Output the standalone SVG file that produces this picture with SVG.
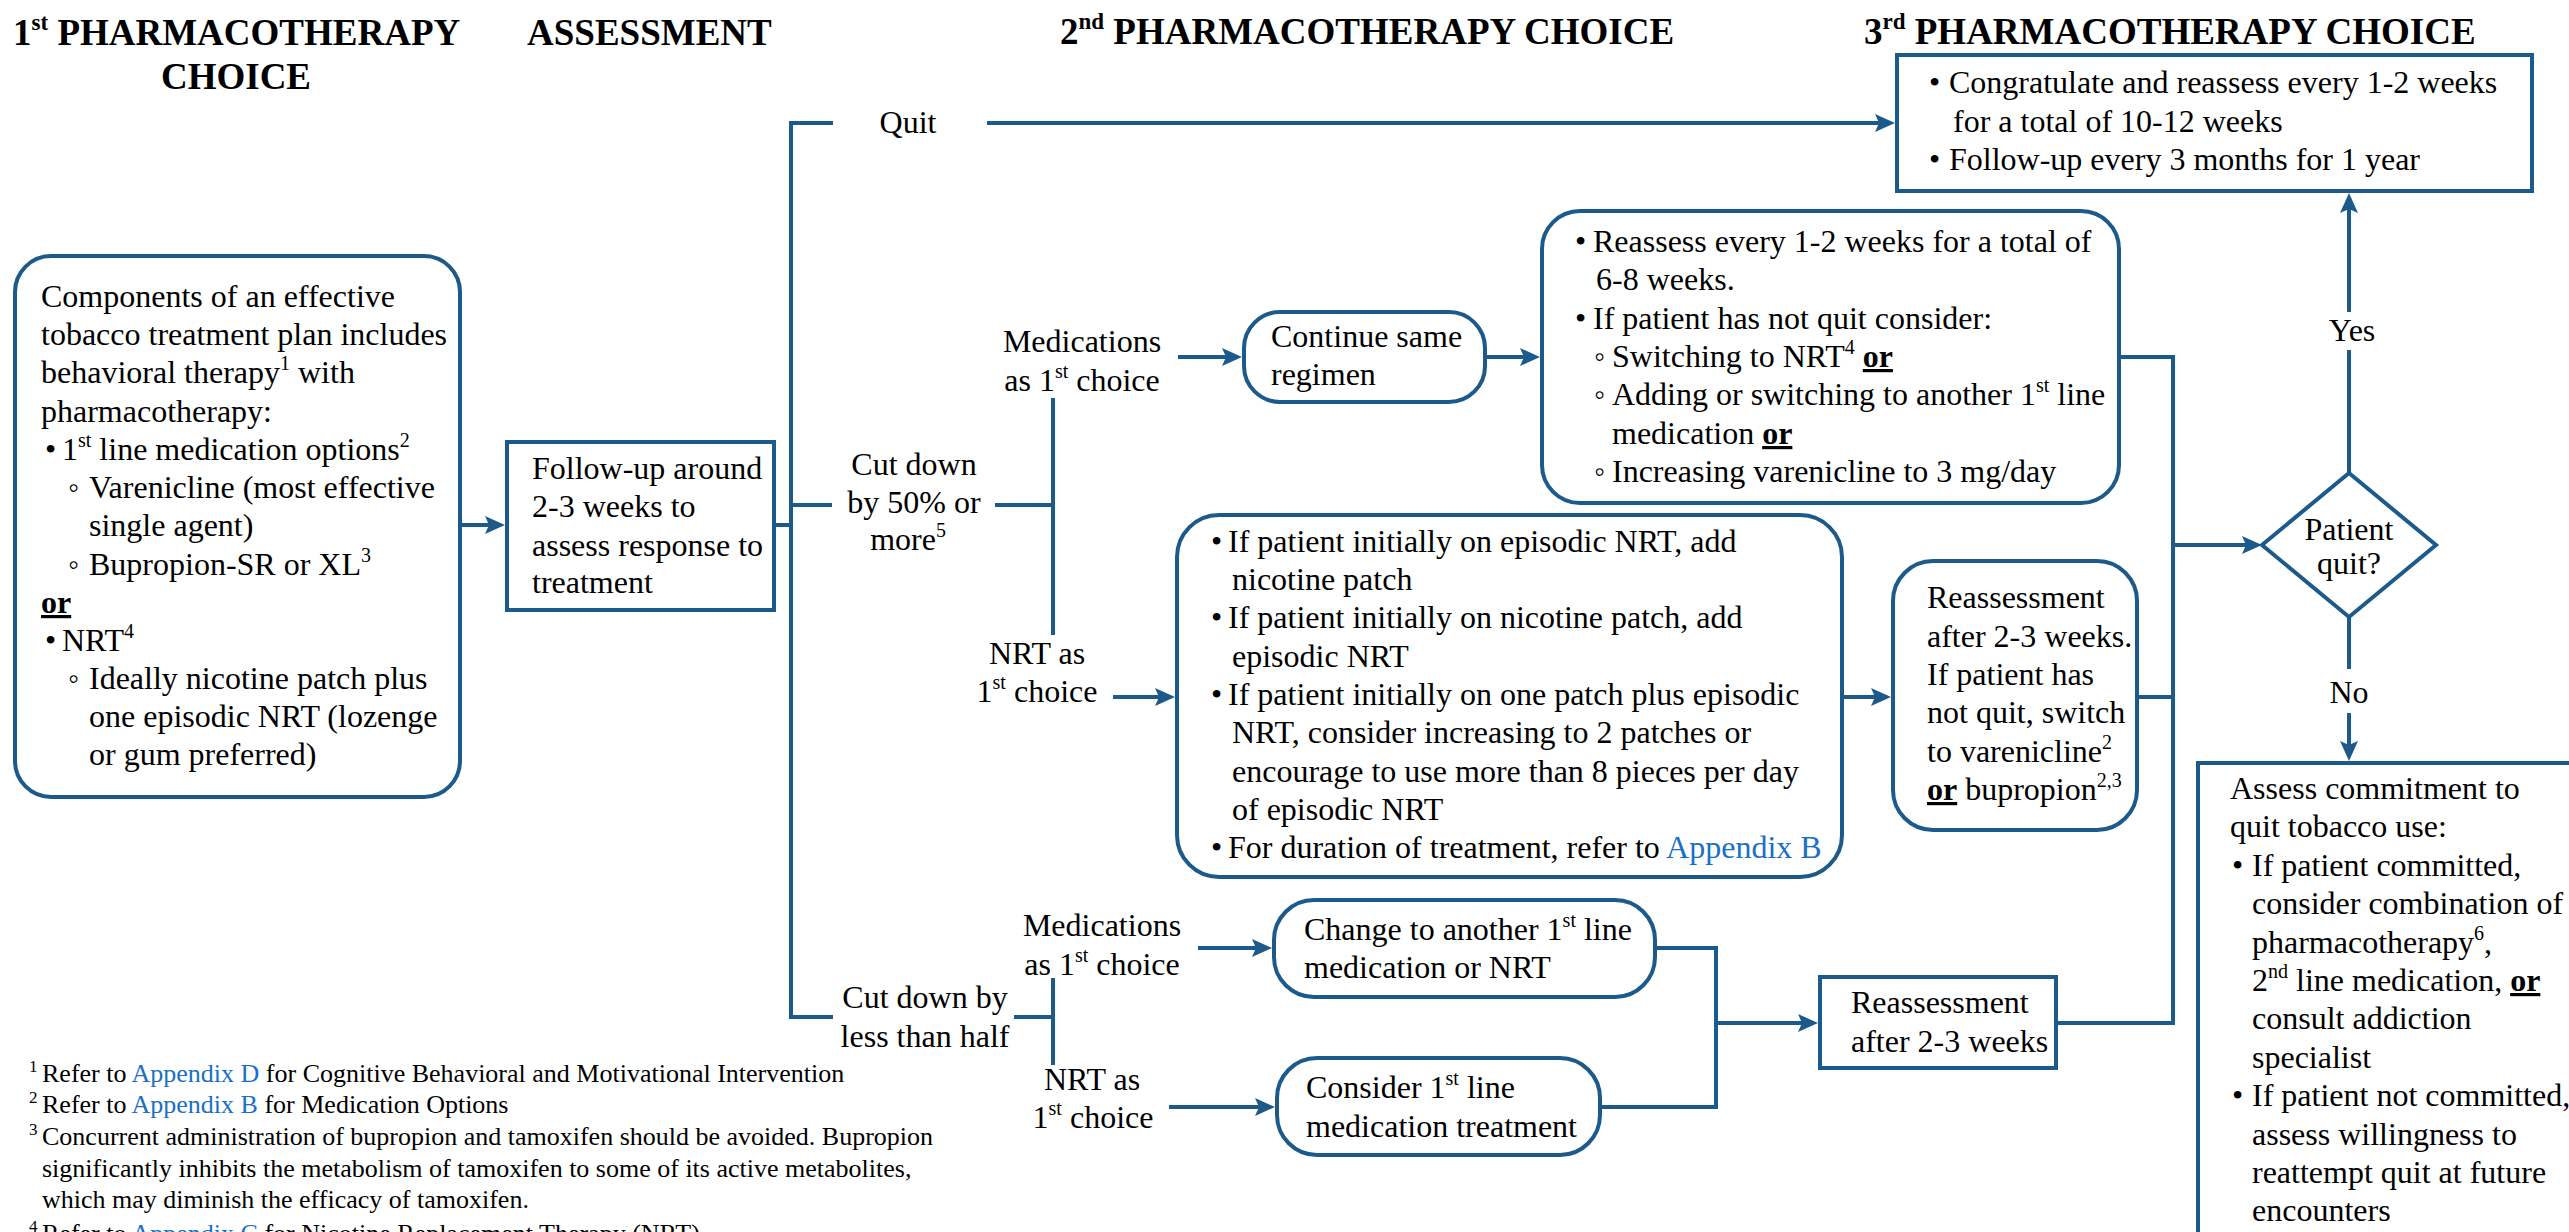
<svg xmlns="http://www.w3.org/2000/svg" width="2569" height="1232" viewBox="0 0 2569 1232">
<style>
.t{font-family:"Liberation Serif","Times New Roman",serif;font-size:32px;fill:#000}
.h{font-family:"Liberation Serif","Times New Roman",serif;font-size:37px;font-weight:bold;fill:#000}
.fn{font-family:"Liberation Serif","Times New Roman",serif;font-size:26px;fill:#000}
.m{text-anchor:middle}
.ln{fill:none;stroke:#1c5a8c;stroke-width:4}
.box{fill:#fff;stroke:#1c5a8c;stroke-width:4}
.b{font-weight:bold;text-decoration:underline}
.lk{fill:#1a6fc8}
.s{font-size:20px}
.hs{font-size:23px}
.fs{font-size:17px}
</style>
<defs>
<marker id="ah" markerUnits="userSpaceOnUse" markerWidth="22" markerHeight="20" refX="10" refY="9" orient="auto" overflow="visible">
<path d="M0,0 L20,9 L0,18 L4,9 z" fill="#1c5a8c"/>
</marker>
</defs>
<rect width="2569" height="1232" fill="#fff"/>

<g id="headers">
<text class="h" x="13" y="45">1<tspan class="hs" dy="-15">st</tspan><tspan dy="15"> PHARMACOTHERAPY</tspan></text>
<text class="h m" x="236" y="89">CHOICE</text>
<text class="h" x="527" y="45">ASSESSMENT</text>
<text class="h" x="1060" y="44">2<tspan class="hs" dy="-15">nd</tspan><tspan dy="15"> PHARMACOTHERAPY CHOICE</tspan></text>
<text class="h" x="1864" y="44">3<tspan class="hs" dy="-15">rd</tspan><tspan dy="15"> PHARMACOTHERAPY CHOICE</tspan></text>
</g>

<g id="connectors">
<path class="ln" d="M462,525 H495" marker-end="url(#ah)"/>
<path class="ln" d="M774,525 H791"/>
<path class="ln" d="M833,123 H791 V1017 H833"/>
<path class="ln" d="M791,505 H832"/>
<path class="ln" d="M987,123 H1885" marker-end="url(#ah)"/>
<path class="ln" d="M995,505 H1053"/>
<path class="ln" d="M1053,398 V635"/>
<path class="ln" d="M1178,357 H1232" marker-end="url(#ah)"/>
<path class="ln" d="M1487,357 H1530" marker-end="url(#ah)"/>
<path class="ln" d="M1113,697 H1165" marker-end="url(#ah)"/>
<path class="ln" d="M1844,697 H1881" marker-end="url(#ah)"/>
<path class="ln" d="M2121,357 H2173 V1023 H2058"/>
<path class="ln" d="M2139,697 H2173"/>
<path class="ln" d="M2173,545 H2252" marker-end="url(#ah)"/>
<path class="ln" d="M2349,473 V350"/>
<path class="ln" d="M2349,312 V203" marker-end="url(#ah)"/>
<path class="ln" d="M2349,617 V669"/>
<path class="ln" d="M2349,713 V751" marker-end="url(#ah)"/>
<path class="ln" d="M1014,1017 H1053"/>
<path class="ln" d="M1053,978 V1065"/>
<path class="ln" d="M1198,948 H1262" marker-end="url(#ah)"/>
<path class="ln" d="M1169,1107 H1265" marker-end="url(#ah)"/>
<path class="ln" d="M1657,948 H1716 V1107 H1602"/>
<path class="ln" d="M1716,1023 H1808" marker-end="url(#ah)"/>
</g>

<g id="first-choice">
<rect class="box" x="15" y="256" width="445" height="541" rx="36"/>
<text class="t" x="41" y="307">Components of an effective</text>
<text class="t" x="41" y="345">tobacco treatment plan includes</text>
<text class="t" x="41" y="383">behavioral therapy<tspan class="s" dy="-13">1</tspan><tspan dy="13"> with</tspan></text>
<text class="t" x="41" y="422">pharmacotherapy:</text>
<text class="t"><tspan x="45" y="460">•</tspan><tspan x="62">1</tspan><tspan class="s" dy="-13">st</tspan><tspan dy="13"> line medication options</tspan><tspan class="s" dy="-13">2</tspan></text>
<text class="t"><tspan x="68" y="498">◦</tspan><tspan x="89">Varenicline (most effective</tspan></text>
<text class="t" x="89" y="536">single agent)</text>
<text class="t"><tspan x="68" y="575">◦</tspan><tspan x="89">Bupropion-SR or XL</tspan><tspan class="s" dy="-13">3</tspan></text>
<text class="t b" x="41" y="613">or</text>
<text class="t"><tspan x="45" y="651">•</tspan><tspan x="62">NRT</tspan><tspan class="s" dy="-13">4</tspan></text>
<text class="t"><tspan x="68" y="689">◦</tspan><tspan x="89">Ideally nicotine patch plus</tspan></text>
<text class="t" x="89" y="727">one episodic NRT (lozenge</text>
<text class="t" x="89" y="765">or gum preferred)</text>
</g>

<g id="follow-up">
<rect class="box" x="507" y="442" width="267" height="168"/>
<text class="t" x="532" y="479">Follow-up around</text>
<text class="t" x="532" y="517">2-3 weeks to</text>
<text class="t" x="532" y="556">assess response to</text>
<text class="t" x="532" y="593">treatment</text>
</g>

<g id="label-quit">
<text class="t m" x="908" y="133">Quit</text>
</g>
<g id="label-cut50">
<text class="t m" x="914" y="475">Cut down</text>
<text class="t m" x="914" y="513">by 50% or</text>
<text class="t m" x="908" y="550">more<tspan class="s" dy="-13">5</tspan></text>
</g>
<g id="label-med1">
<text class="t m" x="1082" y="352">Medications</text>
<text class="t m" x="1082" y="391">as 1<tspan class="s" dy="-13">st</tspan><tspan dy="13"> choice</tspan></text>
</g>
<g id="label-nrt1">
<text class="t m" x="1037" y="664">NRT as</text>
<text class="t m" x="1037" y="702">1<tspan class="s" dy="-13">st</tspan><tspan dy="13"> choice</tspan></text>
</g>
<g id="label-cuthalf">
<text class="t m" x="925" y="1008">Cut down by</text>
<text class="t m" x="925" y="1047">less than half</text>
</g>
<g id="label-med2">
<text class="t m" x="1102" y="936">Medications</text>
<text class="t m" x="1102" y="975">as 1<tspan class="s" dy="-13">st</tspan><tspan dy="13"> choice</tspan></text>
</g>
<g id="label-nrt2">
<text class="t m" x="1092" y="1090">NRT as</text>
<text class="t m" x="1093" y="1128">1<tspan class="s" dy="-13">st</tspan><tspan dy="13"> choice</tspan></text>
</g>

<g id="continue-same">
<rect class="box" x="1244" y="312" width="241" height="90" rx="36"/>
<text class="t" x="1271" y="347">Continue same</text>
<text class="t" x="1271" y="385">regimen</text>
</g>

<g id="reassess-med">
<rect class="box" x="1542" y="211" width="577" height="292" rx="38"/>
<text class="t"><tspan x="1575" y="252">•</tspan><tspan x="1593">Reassess every 1-2 weeks for a total of</tspan></text>
<text class="t" x="1596" y="290">6-8 weeks.</text>
<text class="t"><tspan x="1575" y="329">•</tspan><tspan x="1593">If patient has not quit consider:</tspan></text>
<text class="t"><tspan x="1594" y="367">◦</tspan><tspan x="1612">Switching to NRT</tspan><tspan class="s" dy="-13">4</tspan><tspan dy="13"> </tspan><tspan class="b">or</tspan></text>
<text class="t"><tspan x="1594" y="405">◦</tspan><tspan x="1612">Adding or switching to another 1</tspan><tspan class="s" dy="-13">st</tspan><tspan dy="13"> line</tspan></text>
<text class="t" x="1612" y="444">medication <tspan class="b">or</tspan></text>
<text class="t"><tspan x="1594" y="482">◦</tspan><tspan x="1612">Increasing varenicline to 3 mg/day</tspan></text>
</g>

<g id="nrt-options">
<rect class="box" x="1177" y="515" width="665" height="362" rx="42"/>
<text class="t"><tspan x="1211" y="552">•</tspan><tspan x="1228">If patient initially on episodic NRT, add</tspan></text>
<text class="t" x="1232" y="590">nicotine patch</text>
<text class="t"><tspan x="1211" y="628">•</tspan><tspan x="1228">If patient initially on nicotine patch, add</tspan></text>
<text class="t" x="1232" y="667">episodic NRT</text>
<text class="t"><tspan x="1211" y="705">•</tspan><tspan x="1228">If patient initially on one patch plus episodic</tspan></text>
<text class="t" x="1232" y="743">NRT, consider increasing to 2 patches or</text>
<text class="t" x="1232" y="782">encourage to use more than 8 pieces per day</text>
<text class="t" x="1232" y="820">of episodic NRT</text>
<text class="t"><tspan x="1211" y="858">•</tspan><tspan x="1228">For duration of treatment, refer to </tspan><tspan class="lk">Appendix B</tspan></text>
</g>

<g id="reassess-nrt">
<rect class="box" x="1893" y="561" width="244" height="269" rx="40"/>
<text class="t" x="1927" y="608">Reassessment</text>
<text class="t" x="1927" y="647">after 2-3 weeks.</text>
<text class="t" x="1927" y="685">If patient has</text>
<text class="t" x="1927" y="723">not quit, switch</text>
<text class="t" x="1927" y="762">to varenicline<tspan class="s" dy="-13">2</tspan></text>
<text class="t" x="1927" y="800"><tspan class="b">or</tspan> bupropion<tspan class="s" dy="-13">2,3</tspan></text>
</g>

<g id="change-med">
<rect class="box" x="1274" y="900" width="381" height="97" rx="40"/>
<text class="t" x="1304" y="940">Change to another 1<tspan class="s" dy="-13">st</tspan><tspan dy="13"> line</tspan></text>
<text class="t" x="1304" y="978">medication or NRT</text>
</g>

<g id="consider-first">
<rect class="box" x="1277" y="1058" width="323" height="97" rx="40"/>
<text class="t" x="1306" y="1098">Consider 1<tspan class="s" dy="-13">st</tspan><tspan dy="13"> line</tspan></text>
<text class="t" x="1306" y="1137">medication treatment</text>
</g>

<g id="reassess-half">
<rect class="box" x="1820" y="977" width="236" height="91"/>
<text class="t" x="1851" y="1013">Reassessment</text>
<text class="t" x="1851" y="1052">after 2-3 weeks</text>
</g>

<g id="quit-followup">
<rect class="box" x="1897" y="55" width="635" height="136"/>
<text class="t"><tspan x="1929" y="93">•</tspan><tspan x="1949">Congratulate and reassess every 1-2 weeks</tspan></text>
<text class="t" x="1953" y="132">for a total of 10-12 weeks</text>
<text class="t"><tspan x="1929" y="170">•</tspan><tspan x="1949">Follow-up every 3 months for 1 year</tspan></text>
</g>

<g id="patient-quit">
<polygon class="box" points="2349,473 2436,545 2349,617 2262,545"/>
<text class="t m" x="2349" y="540">Patient</text>
<text class="t m" x="2349" y="574">quit?</text>
</g>
<g id="label-yes"><text class="t m" x="2352" y="341">Yes</text></g>
<g id="label-no"><text class="t m" x="2349" y="703">No</text></g>

<g id="assess-commitment">
<rect class="box" x="2198" y="763" width="420" height="520"/>
<text class="t" x="2230" y="799">Assess commitment to</text>
<text class="t" x="2230" y="837">quit tobacco use:</text>
<text class="t"><tspan x="2232" y="876">•</tspan><tspan x="2252">If patient committed,</tspan></text>
<text class="t" x="2252" y="914">consider combination of</text>
<text class="t" x="2252" y="953">pharmacotherapy<tspan class="s" dy="-13">6</tspan><tspan dy="13">,</tspan></text>
<text class="t" x="2252" y="991">2<tspan class="s" dy="-13">nd</tspan><tspan dy="13"> line medication, </tspan><tspan class="b">or</tspan></text>
<text class="t" x="2252" y="1029">consult addiction</text>
<text class="t" x="2252" y="1068">specialist</text>
<text class="t"><tspan x="2232" y="1106">•</tspan><tspan x="2252">If patient not committed,</tspan></text>
<text class="t" x="2252" y="1145">assess willingness to</text>
<text class="t" x="2252" y="1183">reattempt quit at future</text>
<text class="t" x="2252" y="1221">encounters</text>
</g>

<g id="footnotes">
<text class="fn"><tspan class="fs" x="29" y="1072">1</tspan><tspan x="42" y="1082">Refer to </tspan><tspan class="lk">Appendix D</tspan><tspan> for Cognitive Behavioral and Motivational Intervention</tspan></text>
<text class="fn"><tspan class="fs" x="29" y="1103">2</tspan><tspan x="42" y="1113">Refer to </tspan><tspan class="lk">Appendix B</tspan><tspan> for Medication Options</tspan></text>
<text class="fn"><tspan class="fs" x="29" y="1135">3</tspan><tspan x="42" y="1145">Concurrent administration of bupropion and tamoxifen should be avoided. Bupropion</tspan></text>
<text class="fn" x="42" y="1177">significantly inhibits the metabolism of tamoxifen to some of its active metabolites,</text>
<text class="fn" x="42" y="1208">which may diminish the efficacy of tamoxifen.</text>
<text class="fn"><tspan class="fs" x="29" y="1232">4</tspan><tspan x="42" y="1242">Refer to </tspan><tspan class="lk">Appendix C</tspan><tspan> for Nicotine Replacement Therapy (NRT)</tspan></text>
</g>
</svg>
